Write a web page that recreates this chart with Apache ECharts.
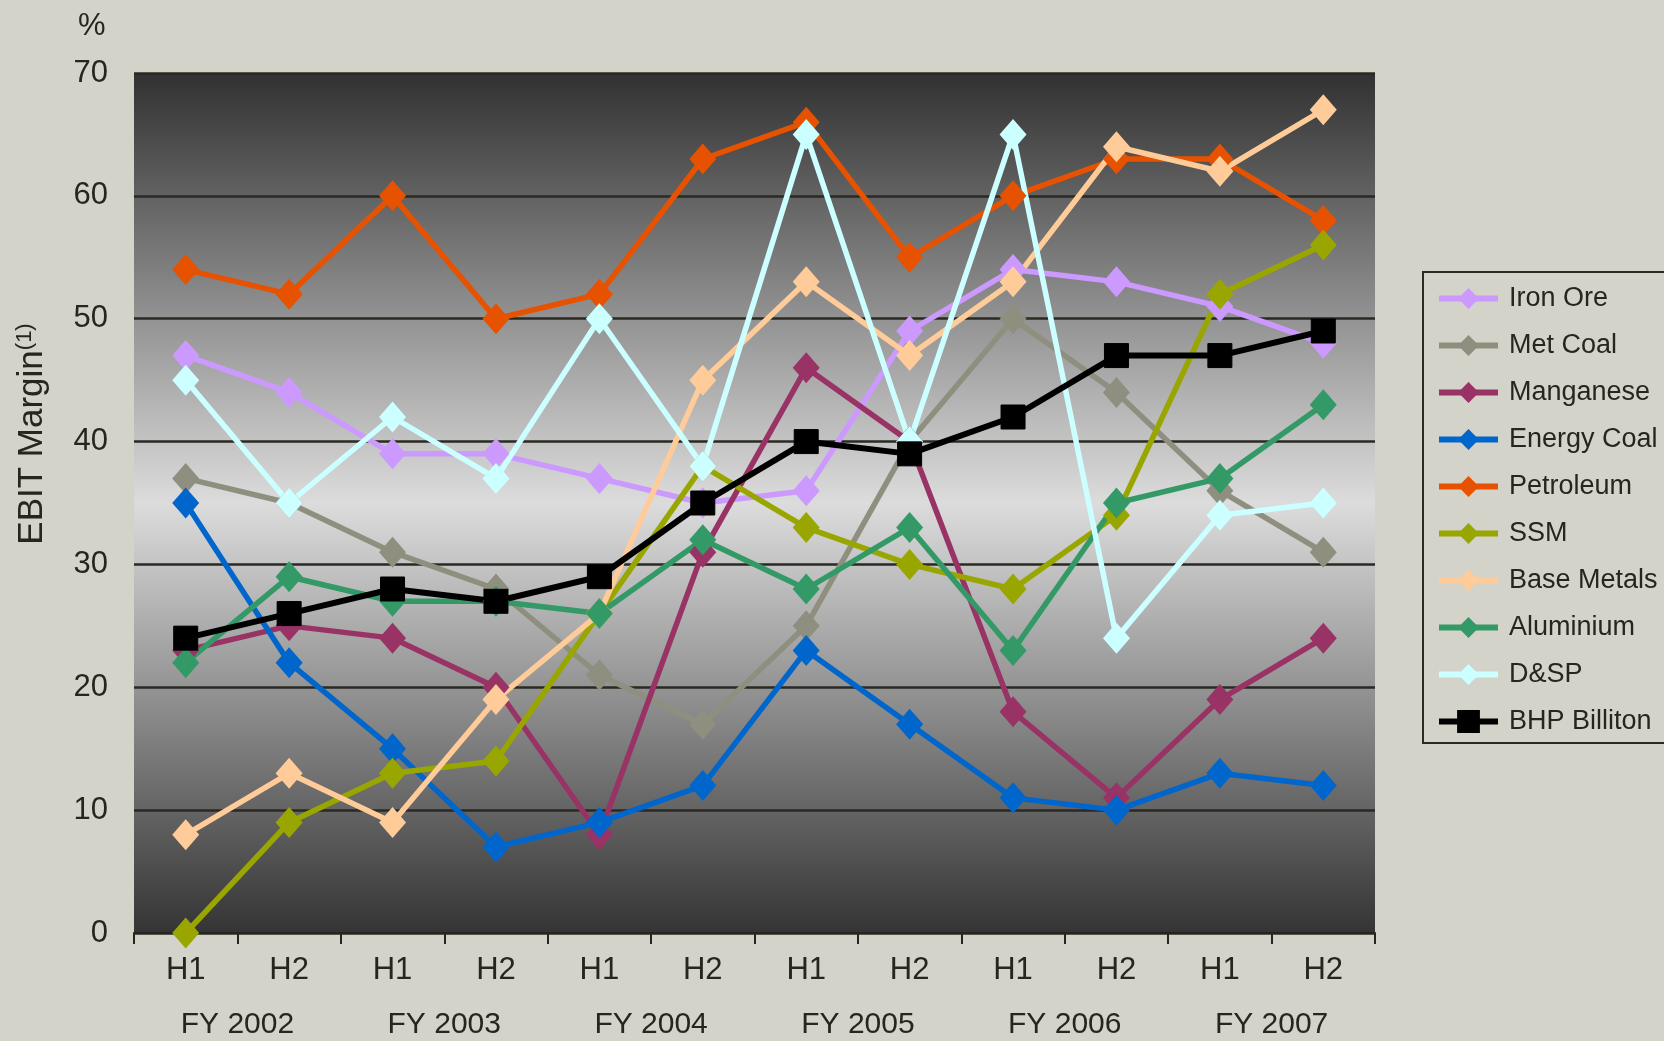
<!DOCTYPE html>
<html>
<head>
<meta charset="utf-8">
<title>EBIT Margin by Customer Sector Group</title>
<script src="https://cdn.jsdelivr.net/npm/echarts@6/dist/echarts.min.js"></script>
<style>
  html, body { margin: 0; padding: 0; background: #d3d3c9; }
  #chart { width: 1664px; height: 1041px; }
</style>
</head>
<body>
<div id="chart"></div>
<script>
// Half-year periods and the fiscal years they belong to
const halves = ['H1', 'H2', 'H1', 'H2', 'H1', 'H2', 'H1', 'H2', 'H1', 'H2', 'H1', 'H2'];
const fiscalYears = ['FY 2002', 'FY 2003', 'FY 2004', 'FY 2005', 'FY 2006', 'FY 2007'];
const yTicks = { min: 0, max: 70, step: 10 };

// EBIT margin (%) per customer sector group
const ironOre    = [47, 44, 39, 39, 37, 35, 36, 49, 54, 53, 51, 48];
const metCoal    = [37, 35, 31, 28, 21, 17, 25, 40, 50, 44, 36, 31];
const manganese  = [23, 25, 24, 20, 8, 31, 46, 40, 18, 11, 19, 24];
const energyCoal = [35, 22, 15, 7, 9, 12, 23, 17, 11, 10, 13, 12];
const petroleum  = [54, 52, 60, 50, 52, 63, 66, 55, 60, 63, 63, 58];
const ssm        = [0, 9, 13, 14, 26, 38, 33, 30, 28, 34, 52, 56];
const baseMetals = [8, 13, 9, 19, 26, 45, 53, 47, 53, 64, 62, 67];
const aluminium  = [22, 29, 27, 27, 26, 32, 28, 33, 23, 35, 37, 43];
const dsp        = [45, 35, 42, 37, 50, 38, 65, 40, 65, 24, 34, 35];
const bhp        = [24, 26, 28, 27, 29, 35, 40, 39, 42, 47, 47, 49];

const FONT = '"Liberation Sans", Arial, sans-serif';
const INK = '#26261f';

function diamondSeries(name, data, color) {
  return {
    name, type: 'line', data,
    symbol: 'diamond', symbolSize: [27, 31],
    lineStyle: { color, width: 5.5 },
    itemStyle: { color },
    emphasis: { disabled: true },
    animation: false
  };
}

const series = [
  diamondSeries('Iron Ore', ironOre, '#cc99ff'),
  diamondSeries('Met Coal', metCoal, '#8f8f80'),
  diamondSeries('Manganese', manganese, '#993366'),
  diamondSeries('Energy Coal', energyCoal, '#0066cc'),
  diamondSeries('Petroleum', petroleum, '#e65200'),
  diamondSeries('SSM', ssm, '#99a600'),
  diamondSeries('Base Metals', baseMetals, '#ffcc99'),
  diamondSeries('Aluminium', aluminium, '#339966'),
  diamondSeries('D&SP', dsp, '#ccffff'),
  {
    name: 'BHP Billiton', type: 'line', data: bhp,
    symbol: 'rect', symbolSize: 24,
    lineStyle: { color: '#000', width: 6 },
    itemStyle: { color: '#000', borderColor: '#000', borderWidth: 1 },
    emphasis: { disabled: true },
    animation: false
  }
];

const chart = echarts.init(document.getElementById('chart'), null, { renderer: 'canvas' });

chart.setOption({
  backgroundColor: '#d3d3c9',
  animation: false,
  textStyle: { fontFamily: FONT, color: INK },
  grid: {
    left: 134, right: 289, top: 73, bottom: 108,
    show: true,
    borderWidth: 0,
    backgroundColor: new echarts.graphic.LinearGradient(0, 0, 0, 1, [
      { offset: 0, color: '#313131' },
      { offset: 0.5, color: '#dcdcdc' },
      { offset: 1, color: '#343434' }
    ])
  },
  xAxis: [
    {
      type: 'category', data: halves, boundaryGap: true,
      axisLine: { show: true, lineStyle: { color: INK, width: 2 } },
      axisTick: { show: true, length: 11, lineStyle: { color: INK, width: 2 } },
      axisLabel: { fontFamily: FONT, fontSize: 31, color: INK, margin: 22 }
    },
    {
      type: 'category', data: fiscalYears, position: 'bottom', offset: 55,
      axisLine: { show: false }, axisTick: { show: false },
      axisLabel: { fontFamily: FONT, fontSize: 30, color: INK, margin: 22 }
    }
  ],
  yAxis: {
    type: 'value', min: yTicks.min, max: yTicks.max, interval: yTicks.step,
    axisLine: { show: false }, axisTick: { show: false },
    axisLabel: { fontFamily: FONT, fontSize: 31, color: INK, margin: 26 },
    splitLine: { show: true, lineStyle: { color: '#2a2a22', width: 2.5 } }
  },
  legend: {
    orient: 'vertical',
    left: 1423, top: 272,
    padding: [8, 60, 3, 13],
    borderColor: '#2a2a22', borderWidth: 2,
    backgroundColor: '#d3d3c9',
    itemWidth: 59, itemHeight: 26,
    itemGap: 10,
    lineStyle: { width: 6 },
    textStyle: { fontFamily: FONT, fontSize: 27, color: INK, lineHeight: 37, padding: [0, 0, 0, 6] },
    data: series.map(s => s.name)
  },
  graphic: [
    {
      type: 'text', left: 78, top: 11,
      style: { text: '%', font: '31px ' + FONT, fill: INK }
    },
    {
      type: 'text', x: 32, y: 434, rotation: Math.PI / 2,
      style: {
        text: '{a|EBIT Margin}{b|(1)}',
        align: 'center', verticalAlign: 'middle',
        rich: {
          a: { fontFamily: FONT, fontSize: 35, fill: INK, color: INK },
          b: { fontFamily: FONT, fontSize: 22, fill: INK, color: INK, verticalAlign: 'top', padding: [0, 0, 15, 0] }
        }
      }
    }
  ],
  series
});
</script>
</body>
</html>
